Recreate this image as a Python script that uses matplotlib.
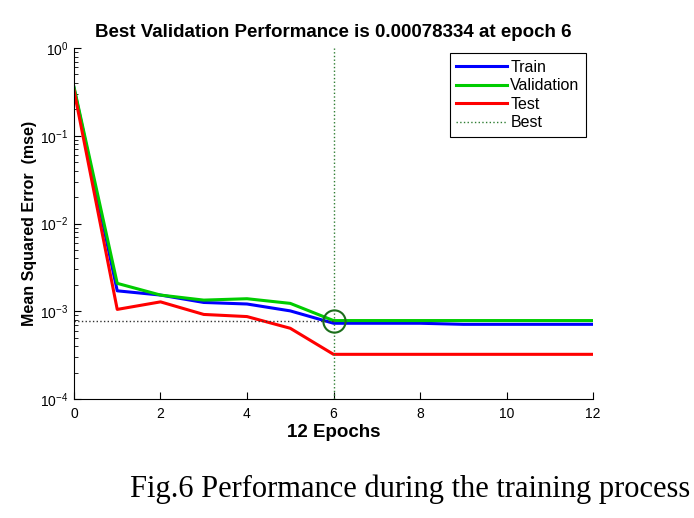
import numpy as np
import matplotlib.pyplot as plt

epochs = [0, 1, 2, 3, 4, 5, 6, 7, 8, 9, 10, 11, 12]
train = [0.35, 1.71e-3, 1.53e-3, 1.26e-3, 1.21e-3, 1.01e-3, 7.3e-4,
         7.3e-4, 7.3e-4, 7.1e-4, 7.1e-4, 7.1e-4, 7.1e-4]
validation = [0.36, 2.08e-3, 1.53e-3, 1.34e-3, 1.39e-3, 1.23e-3, 7.8334e-4,
              7.8334e-4, 7.8334e-4, 7.8334e-4, 7.8334e-4, 7.8334e-4, 7.8334e-4]
test = [0.33, 1.05e-3, 1.28e-3, 9.2e-4, 8.7e-4, 6.4e-4, 3.23e-4,
        3.23e-4, 3.23e-4, 3.23e-4, 3.23e-4, 3.23e-4, 3.23e-4]
best_epoch = 6
best_perf = 7.8334e-4

plt.rcParams['font.family'] = ['Liberation Sans', 'DejaVu Sans']

fig = plt.figure(figsize=(6.94, 5.18), dpi=100)
ax = fig.add_axes([0.1066, 0.2297, 0.7479, 0.6776])

ax.plot(epochs, train, color='#0000ff', lw=2.2, label='Train')
ax.plot(epochs, validation, color='#00cc00', lw=2.2, label='Validation')
ax.plot(epochs, test, color='#ff0000', lw=2.2, label='Test')
ax.plot([best_epoch, best_epoch], [1e-4, 1], ':', color='#2e7d32', lw=1, label='Best')
ax.plot([0, best_epoch], [best_perf, best_perf], ':', color='#333333', lw=1)
ax.plot(best_epoch, best_perf, 'o', ms=16, mfc='none', mec='#1b6e1b', mew=1.5)

ax.set_yscale('log')
ax.set_xlim(0, 12)
ax.set_ylim(1e-4, 1)
ax.set_xticks(range(0, 13, 2))
ax.spines['top'].set_visible(False)
ax.spines['right'].set_visible(False)
ax.tick_params(direction='in', labelsize=10, which='both')
ax.tick_params(which='major', length=5)
ax.tick_params(which='minor', length=3)
ax.tick_params(axis='y', pad=4)
ax.tick_params(axis='x', pad=6)

ax.set_title('Best Validation Performance is 0.00078334 at epoch 6',
             fontsize=13.5, fontweight='bold', pad=8)
ax.set_xlabel('12 Epochs', fontsize=13.5, fontweight='bold', labelpad=2)
ax.set_ylabel('Mean Squared Error  (mse)', fontsize=11.5, fontweight='bold', labelpad=2)

leg = ax.legend(loc='upper right', bbox_to_anchor=(0.9865, 0.985), fontsize=11.5,
                fancybox=False, edgecolor='black', framealpha=1, borderaxespad=0,
                handlelength=3.2, handletextpad=0.2, borderpad=0.4, labelspacing=0.22)
leg.get_frame().set_linewidth(0.8)

fig.text(0.187, 0.04, 'Fig.6 Performance during the training process',
         fontsize=22, family='Liberation Serif')

fig.savefig('out.png', dpi=100)
